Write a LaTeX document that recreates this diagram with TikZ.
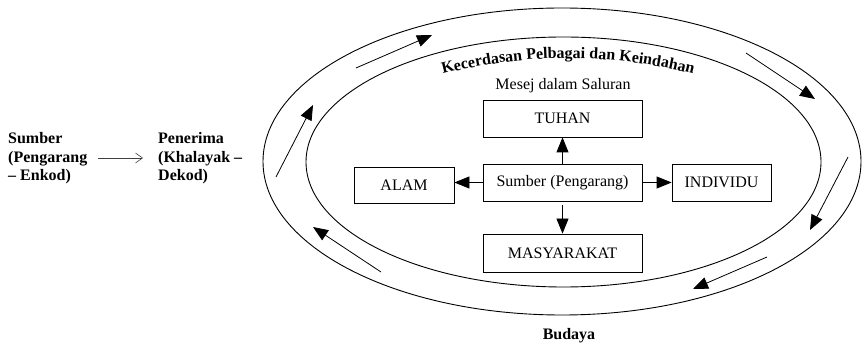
\documentclass[tikz,border=0pt]{standalone}
\usepackage{fontspec}
\setmainfont{Liberation Serif}
\usetikzlibrary{arrows.meta,decorations.text}
\begin{document}
\begin{tikzpicture}[x=1pt,y=-1pt,
  every node/.style={font=\fontsize{16}{18.5}\selectfont},
  box/.style={draw,line width=0.8pt,inner sep=0pt,minimum width=159pt,minimum height=37pt},
  flow/.style={line width=0.8pt,-{Triangle[length=15pt,width=12pt]}},
  circ/.style={line width=0.8pt,-{Triangle[length=15pt,width=12pt]}},
  ring/.style={line width=0.9pt},
  sidetext/.style={font=\fontsize{16}{18.5}\selectfont\bfseries,align=left,inner sep=0pt,anchor=west}
]
\useasboundingbox (0,0) rectangle (862,344);
% ellipses
\draw[ring] (562,161.5) ellipse [x radius=299, y radius=153.5];
\draw[ring] (563.5,162) ellipse [x radius=257.5, y radius=125];
% boxes
\node[box] (tuhan) at (562.5,118.5) {TUHAN};
\node[box] (sumber) at (562.5,182.5) {Sumber (Pengarang)};
\node[box,minimum width=100pt,minimum height=36pt] (alam) at (404,185) {ALAM};
\node[box,minimum width=99pt] (individu) at (721.5,182.5) {INDIVIDU};
\node[box,minimum height=38pt] (masy) at (562.5,253) {MASYARAKAT};
\draw[flow] (sumber) -- (tuhan);
\draw[flow] (sumber.west) -- (sumber.west -| alam.east);
\draw[flow] (sumber.east) -- (sumber.east -| individu.west);
\draw[flow,shorten <=4pt] (sumber) -- (masy);
% labels
\node[anchor=base] (mesej) at (563,90) {Mesej dalam Saluran};
\path[decorate,decoration={text along path,text align=center,
  text={|\fontsize{16}{18.5}\selectfont\bfseries|Kecerdasan Pelbagai dan Keindahan}}]
  (443,74) .. controls (526,53) and (610,53) .. (693,74);
\node[font=\fontsize{16}{18.5}\selectfont\bfseries,anchor=base] (budaya) at (569,340) {Budaya};
% circulation arrows
\coordinate (a1s) at (276,177); \coordinate (a1e) at (313,105);
\coordinate (a2s) at (356,68);  \coordinate (a2e) at (432,35);
\coordinate (a3s) at (746,53);  \coordinate (a3e) at (815,99);
\coordinate (a4s) at (848,157); \coordinate (a4e) at (810,230);
\coordinate (a5s) at (767,257); \coordinate (a5e) at (693,289);
\coordinate (a6s) at (381,272); \coordinate (a6e) at (313,227);
\draw[circ] (a1s) -- (a1e);
\draw[circ] (a2s) -- (a2e);
\draw[circ] (a3s) -- (a3e);
\draw[circ] (a4s) -- (a4e);
\draw[circ] (a5s) -- (a5e);
\draw[circ] (a6s) -- (a6e);
% left part
\node[sidetext] (src) at (8,158.5) {Sumber\\(Pengarang\\– Enkod)};
\node[sidetext] (rcv) at (158,158.5) {Penerima\\(Khalayak –\\Dekod)};
\draw[line width=0.6pt,black!75,-{Straight Barb[length=7pt,width=10pt]},shorten <=10pt,shorten >=15pt] (src.east |- 0,158) -- (rcv.west |- 0,158);
\end{tikzpicture}
\end{document}
